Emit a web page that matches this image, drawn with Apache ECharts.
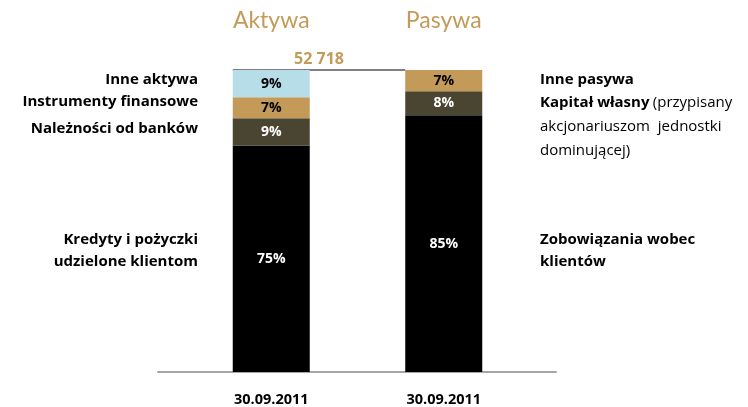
<!DOCTYPE html>
<html>
<head>
<meta charset="utf-8">
<script src="https://cdn.jsdelivr.net/npm/echarts@6/dist/echarts.min.js"></script>
<style>html,body{margin:0;padding:0;background:#fff}#c{width:748px;height:407px}</style>
</head>
<body>
<div id="c"></div>
<script>
const categories = ['Aktywa', 'Pasywa'];
const dateLabels = ['30.09.2011', '30.09.2011'];
const layerBottom = [75, 85];   // Kredyty i pożyczki / Zobowiązania wobec klientów
const layerSecond = [9, 8];     // Należności od banków / Kapitał własny
const layerThird = [7, 7];      // Instrumenty finansowe / Inne pasywa
const layerTop = [9, null];     // Inne aktywa
const totalLabel = '52 718';
const totalLevel = 100;

const FONT = 'Open Sans';
const TAN = '#C49A58';
const BOLD = 'bold 15px "Open Sans"';
const REG = '15px "Open Sans"';

function seg(name, data, color, textColor) {
  return {
    name, type: 'bar', stack: 's', data, barWidth: 77, z: 3,
    itemStyle: { color },
    label: { show: true, position: 'inside', formatter: p => p.value + '%',
      color: textColor, fontFamily: FONT, fontWeight: 'bold', fontSize: 14 }
  };
}

const chart = echarts.init(document.getElementById('c'));
chart.setOption({
  animation: false,
  grid: [
    { left: 185, right: 218, top: 70, bottom: 35 },
    { left: 158, right: 192, top: 70, bottom: 35 }
  ],
  xAxis: [
    { type: 'category', gridIndex: 0, data: categories, position: 'bottom',
      axisLine: { show: false }, axisTick: { show: false },
      axisLabel: { formatter: (v, i) => dateLabels[i], margin: 20, color: '#000',
        fontFamily: FONT, fontWeight: 'bold', fontSize: 14.5 } },
    { type: 'category', gridIndex: 0, data: categories, position: 'top',
      axisLine: { show: false }, axisTick: { show: false },
      axisLabel: { margin: 38, color: TAN, fontFamily: 'Lato', fontSize: 23 } },
    { type: 'category', gridIndex: 1, data: [''], position: 'bottom',
      axisLine: { show: true, lineStyle: { color: '#A6A6A6', width: 2 } },
      axisTick: { show: false }, axisLabel: { show: false } }
  ],
  yAxis: [
    { type: 'value', gridIndex: 0, min: 0, max: 100, show: false },
    { type: 'value', gridIndex: 1, min: 0, max: 1, show: false }
  ],
  series: [
    { type: 'bar', name: 'total', stack: 'line', data: [], z: 1, xAxisIndex: 0, yAxisIndex: 0,
      markLine: {
        z: 1, symbol: ['none', 'none'], silent: true,
        lineStyle: { color: '#808080', width: 2, type: 'solid' },
        label: { show: true, position: 'middle', formatter: totalLabel, color: TAN,
          fontFamily: FONT, fontWeight: 'bold', fontSize: 16, distance: 3 },
        data: [[{ coord: [categories[0], totalLevel] }, { coord: [categories[1], totalLevel] }]]
      } },
    seg('l1', layerBottom, '#000000', '#ffffff'),
    seg('l2', layerSecond, '#4A4530', '#ffffff'),
    seg('l3', layerThird, '#C49A58', '#000000'),
    seg('l4', layerTop, '#B7DDE8', '#000000')
  ],
  graphic: [
    { type: 'text', x: 198, y: 80, style: { text: 'Inne aktywa', align: 'right', verticalAlign: 'middle', font: BOLD, fill: '#000' } },
    { type: 'text', x: 198, y: 102, style: { text: 'Instrumenty finansowe', align: 'right', verticalAlign: 'middle', font: BOLD, fill: '#000' } },
    { type: 'text', x: 198, y: 129, style: { text: 'Należności od banków', align: 'right', verticalAlign: 'middle', font: BOLD, fill: '#000' } },
    { type: 'text', x: 198, y: 251, style: { text: 'Kredyty i pożyczki\nudzielone klientom', align: 'right', verticalAlign: 'middle', font: BOLD, lineHeight: 22, fill: '#000' } },
    { type: 'text', x: 540, y: 80, style: { text: 'Inne pasywa', align: 'left', verticalAlign: 'middle', font: BOLD, fill: '#000' } },
    { type: 'text', x: 540, y: 127, style: {
        text: '{b|Kapitał własny} {n|(przypisany}\n{n|akcjonariuszom  jednostki}\n{n|dominującej)}',
        align: 'left', verticalAlign: 'middle', lineHeight: 24,
        rich: { b: { font: BOLD, fill: '#000', lineHeight: 24 }, n: { font: REG, fill: '#000', lineHeight: 24 } } } },
    { type: 'text', x: 540, y: 251, style: { text: 'Zobowiązania wobec\nklientów', align: 'left', verticalAlign: 'middle', font: BOLD, lineHeight: 22, fill: '#000' } }
  ]
});
</script>
</body>
</html>
